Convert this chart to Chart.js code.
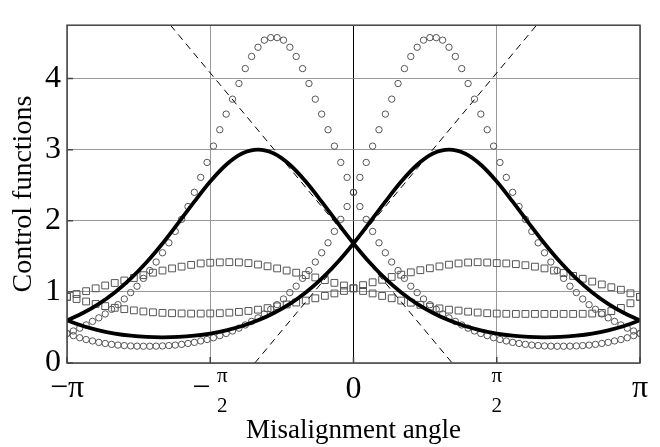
<!DOCTYPE html>
<html lang="en">
<head>
<meta charset="UTF-8">
<title>Control functions vs misalignment angle</title>
<script src="https://cdn.jsdelivr.net/npm/chart.js"></script>
<style>
  html, body { margin: 0; padding: 0; background: #fff; }
  #wrap { width: 660px; height: 447px; }
</style>
</head>
<body>
<div id="wrap"><canvas id="chart" width="660" height="447"></canvas></div>
<script>
// angles in degrees, -180..180 (axis is labelled in multiples of pi)
const solidAngles = [-180, -170, -160, -150, -140, -130, -120, -110, -100, -90, -80, -70, -60, -50, -40, -30, -20, -10,
  0, 10, 20, 30, 40, 50, 60, 70, 80, 90, 100, 110, 120, 130, 140, 150, 160, 170, 180];
const solidLeft = [0.600, 0.703, 0.832, 0.992, 1.186, 1.416, 1.680, 1.970, 2.269, 2.552, 2.788, 2.946, 3.001, 2.946, 2.788, 2.552, 2.269, 1.970,
  1.680, 1.416, 1.186, 0.992, 0.832, 0.703, 0.600, 0.520, 0.459, 0.414, 0.384, 0.366, 0.361, 0.366, 0.384, 0.414, 0.459, 0.520, 0.600];
const solidRight = [0.600, 0.520, 0.459, 0.414, 0.384, 0.366, 0.361, 0.366, 0.384, 0.414, 0.459, 0.520, 0.600, 0.703, 0.832, 0.992, 1.186, 1.416,
  1.680, 1.970, 2.269, 2.552, 2.788, 2.946, 3.001, 2.946, 2.788, 2.552, 2.269, 1.970, 1.680, 1.416, 1.186, 0.992, 0.832, 0.703, 0.600];

const circleAngles = [-180, -176, -172, -168, -164, -160, -156, -152, -148, -144, -140, -136, -132, -128, -124, -120,
  -116, -112, -108, -104, -100, -96, -92, -88, -84, -80, -76, -72, -68, -64, -60, -56, -52, -48, -44, -40, -36, -32,
  -28, -24, -20, -16, -12, -8, -4, 0, 4, 8, 12, 16, 20, 24, 28, 32, 36, 40, 44, 48, 52, 56, 60, 64, 68, 72, 76, 80,
  84, 88, 92, 96, 100, 104, 108, 112, 116, 120, 124, 128, 132, 136, 140, 144, 148, 152, 156, 160, 164, 168, 172, 176, 180];
const circlesLeft = [0.415, 0.45, 0.49, 0.535, 0.585, 0.635, 0.69, 0.755, 0.82, 0.90, 0.99, 1.08, 1.19, 1.30, 1.42, 1.55,
  1.69, 1.85, 2.02, 2.20, 2.40, 2.61, 2.82, 3.05, 3.28, 3.50, 3.71, 3.93, 4.14, 4.31, 4.44, 4.54, 4.575, 4.575, 4.54, 4.44, 4.31, 4.14,
  3.93, 3.71, 3.50, 3.28, 3.05, 2.82, 2.61, 2.40, 2.20, 2.02, 1.85, 1.69, 1.55, 1.42, 1.30, 1.19, 1.08, 0.99, 0.90, 0.82, 0.755, 0.69, 0.635, 0.585, 0.535, 0.49, 0.45, 0.415,
  0.385, 0.355, 0.33, 0.31, 0.29, 0.275, 0.262, 0.252, 0.245, 0.24, 0.237, 0.236, 0.236, 0.237, 0.24, 0.245, 0.252, 0.262, 0.275, 0.29, 0.31, 0.33, 0.355, 0.385, 0.415];
const circlesRight = [0.415, 0.385, 0.355, 0.33, 0.31, 0.29, 0.275, 0.262, 0.252, 0.245, 0.24, 0.237, 0.236, 0.236, 0.237, 0.24,
  0.245, 0.252, 0.262, 0.275, 0.29, 0.31, 0.33, 0.355, 0.385, 0.415, 0.45, 0.49, 0.535, 0.585, 0.635, 0.69, 0.755, 0.82, 0.90, 0.99, 1.08, 1.19,
  1.30, 1.42, 1.55, 1.69, 1.85, 2.02, 2.20, 2.40, 2.61, 2.82, 3.05, 3.28, 3.50, 3.71, 3.93, 4.14, 4.31, 4.44, 4.54, 4.575, 4.575, 4.54, 4.44, 4.31, 4.14, 3.93, 3.71, 3.50,
  3.28, 3.05, 2.82, 2.61, 2.40, 2.20, 2.02, 1.85, 1.69, 1.55, 1.42, 1.30, 1.19, 1.08, 0.99, 0.90, 0.82, 0.755, 0.69, 0.635, 0.585, 0.535, 0.49, 0.45, 0.415];

const squareAngles = [-180, -174, -168, -162, -156, -150, -144, -138, -132, -126, -120, -114, -108, -102, -96, -90,
  -84, -78, -72, -66, -60, -54, -48, -42, -36, -30, -24, -18, -12, -6, 0, 6, 12, 18, 24, 30, 36, 42, 48, 54, 60, 66,
  72, 78, 84, 90, 96, 102, 108, 114, 120, 126, 132, 138, 144, 150, 156, 162, 168, 174, 180];
const squaresUpLeft = [0.93, 0.97, 1.01, 1.05, 1.09, 1.125, 1.16, 1.195, 1.235, 1.27, 1.30, 1.33, 1.355, 1.38, 1.40, 1.41,
  1.415, 1.418, 1.415, 1.405, 1.385, 1.36, 1.33, 1.30, 1.27, 1.237, 1.203, 1.165, 1.127, 1.09, 1.05, 1.013, 0.978, 0.943, 0.91, 0.878, 0.848, 0.818, 0.792, 0.768, 0.75, 0.737,
  0.722, 0.71, 0.70, 0.695, 0.692, 0.69, 0.69, 0.69, 0.69, 0.69, 0.69, 0.69, 0.692, 0.695, 0.705, 0.73, 0.775, 0.84, 0.93];
const squaresUpRight = [0.93, 0.90, 0.865, 0.83, 0.80, 0.776, 0.757, 0.74, 0.725, 0.713, 0.705, 0.70, 0.697, 0.695, 0.695, 0.697,
  0.70, 0.708, 0.718, 0.732, 0.75, 0.772, 0.797, 0.823, 0.85, 0.878, 0.91, 0.944, 0.978, 1.013, 1.05, 1.095, 1.135, 1.17, 1.21, 1.242, 1.275, 1.305, 1.332, 1.358, 1.383, 1.40,
  1.413, 1.417, 1.413, 1.405, 1.40, 1.39, 1.375, 1.355, 1.33, 1.30, 1.265, 1.225, 1.185, 1.145, 1.105, 1.065, 1.03, 0.98, 0.93];

// dashed straight lines through the crossing point
const dashDownX = [-115, 62];
const dashDownY = [4.75, 0];
const dashUpX = [-62, 115];
const dashUpY = [0, 4.75];

const xTicks = [-180, -90, 0, 90, 180];
const yTicks = [0, 1, 2, 3, 4];

const serif = '"Liberation Serif", "Times New Roman", serif';
const pts = (xs, ys) => xs.map((x, i) => ({ x: x, y: ys[i] }));

const lineStyle = { showLine: true, pointRadius: 0, borderColor: '#000', borderWidth: 3.8, cubicInterpolationMode: 'monotone', fill: false };
const circleStyle = { showLine: false, pointStyle: 'circle', pointRadius: 3.2, borderColor: '#555', backgroundColor: 'rgba(0,0,0,0)', pointBorderWidth: 1 };
const squareStyle = { showLine: false, pointStyle: 'rect', pointRadius: 4.8, borderColor: '#555', backgroundColor: 'rgba(0,0,0,0)', pointBorderWidth: 1 };
const dashStyle = { showLine: true, pointRadius: 0, borderColor: '#000', borderWidth: 1, borderDash: [7, 5], fill: false };

// frame, inward ticks and the pi tick labels
const axisDecor = {
  id: 'axisDecor',
  afterDraw(chart) {
    const ctx = chart.ctx;
    const { left, right, top, bottom } = chart.chartArea;
    const xs = chart.scales.x, ys = chart.scales.y;
    ctx.save();
    ctx.strokeStyle = '#444';
    ctx.lineWidth = 1.5;
    ctx.strokeRect(left, top, right - left, bottom - top);
    ctx.beginPath();
    yTicks.forEach(v => { const y = ys.getPixelForValue(v); ctx.moveTo(left, y); ctx.lineTo(left + 6, y); });
    xTicks.forEach(v => { const x = xs.getPixelForValue(v); ctx.moveTo(x, bottom); ctx.lineTo(x, bottom - 6); });
    ctx.stroke();

    ctx.fillStyle = '#000';
    ctx.textAlign = 'center';
    ctx.textBaseline = 'alphabetic';
    const big = '32px ' + serif, small = '21px ' + serif;
    xTicks.forEach(v => {
      const x = xs.getPixelForValue(v);
      if (v === -180) { ctx.font = big; ctx.fillText('\u2212\u03c0', x, bottom + 34); }
      else if (v === 180) { ctx.font = big; ctx.fillText('\u03c0', x, bottom + 34); }
      else if (v === 0) { ctx.font = big; ctx.fillText('0', x, bottom + 35); }
      else {
        let cx = x;
        if (v < 0) { ctx.font = big; ctx.fillText('\u2212', x - 9, bottom + 34); cx = x + 12; }
        ctx.font = small;
        ctx.fillText('\u03c0', cx, bottom + 19);
        ctx.fillText('2', cx, bottom + 49);
      }
    });
    ctx.restore();
  }
};

new Chart(document.getElementById('chart'), {
  type: 'scatter',
  data: {
    datasets: [
      Object.assign({ label: 'solid 1', data: pts(solidAngles, solidLeft) }, lineStyle),
      Object.assign({ label: 'solid 2', data: pts(solidAngles, solidRight) }, lineStyle),
      Object.assign({ label: 'dashed 1', data: pts(dashDownX, dashDownY) }, dashStyle),
      Object.assign({ label: 'dashed 2', data: pts(dashUpX, dashUpY) }, dashStyle),
      Object.assign({ label: 'circles 1', data: pts(circleAngles, circlesLeft) }, circleStyle),
      Object.assign({ label: 'circles 2', data: pts(circleAngles, circlesRight) }, circleStyle),
      Object.assign({ label: 'squares 1', data: pts(squareAngles, squaresUpLeft) }, squareStyle),
      Object.assign({ label: 'squares 2', data: pts(squareAngles, squaresUpRight) }, squareStyle)
    ]
  },
  options: {
    responsive: false,
    animation: false,
    layout: { padding: { top: 9, right: 20, left: 0, bottom: 0 } },
    plugins: { legend: { display: false }, tooltip: { enabled: false } },
    scales: {
      x: {
        type: 'linear', min: -180, max: 180,
        afterBuildTicks: s => { s.ticks = xTicks.map(v => ({ value: v })); },
        afterFit: s => { s.height = 84; },
        ticks: { display: false },
        grid: { drawTicks: false, lineWidth: 1, color: c => (c.tick && c.tick.value === 0) ? '#000' : '#999' },
        border: { display: false },
        title: { display: true, text: 'Misalignment angle', color: '#000', font: { family: serif, size: 27 }, padding: { top: 0, bottom: 0 } }
      },
      y: {
        type: 'linear', min: 0, max: 4.75,
        afterBuildTicks: s => { s.ticks = yTicks.map(v => ({ value: v })); },
        afterFit: s => { s.width = 67; },
        ticks: { color: '#000', padding: 6, font: { family: serif, size: 32 } },
        grid: { drawTicks: false, lineWidth: 1, color: '#999' },
        border: { display: false },
        title: { display: true, text: 'Control functions', color: '#000', font: { family: serif, size: 28 }, padding: { top: 7, bottom: 0 } }
      }
    }
  },
  plugins: [axisDecor]
});
</script>
</body>
</html>
